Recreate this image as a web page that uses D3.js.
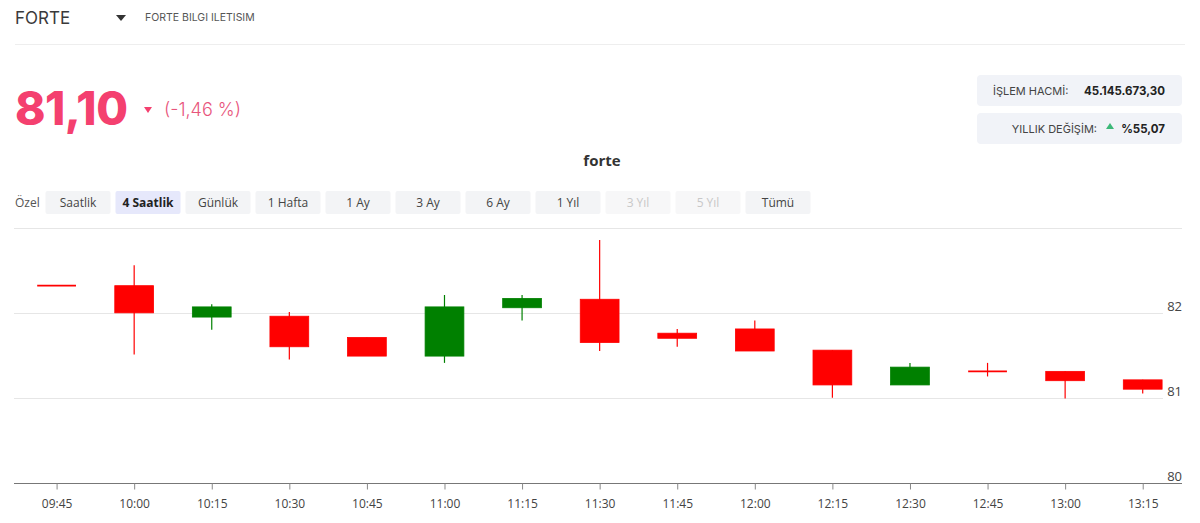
<!DOCTYPE html>
<html><head><meta charset="utf-8">
<script src="https://cdn.jsdelivr.net/npm/d3@7"></script>
<style>
html,body{margin:0;padding:0;background:#fff;}
svg{display:block;}
</style></head>
<body>
<svg id="c" width="1200" height="523"></svg>
<script>
// ---- data ----
const times = ["09:45","10:00","10:15","10:30","10:45","11:00","11:15","11:30","11:45","12:00","12:15","12:30","12:45","13:00","13:15"];
const openV  = [82.32, 82.32, 81.95, 81.96, 81.71, 81.49, 82.06, 82.16, 81.76, 81.81, 81.56, 81.15, 81.31, 81.31, 81.21];
const highV  = [82.32, 82.56, 82.10, 82.01, 81.71, 82.21, 82.21, 82.86, 81.81, 81.91, 81.56, 81.41, 81.41, 81.31, 81.21];
const lowV   = [82.32, 81.51, 81.80, 81.45, 81.49, 81.41, 81.91, 81.55, 81.60, 81.55, 81.00, 81.15, 81.25, 80.99, 81.05];
const closeV = [82.32, 82.00, 82.07, 81.60, 81.49, 82.07, 82.17, 81.65, 81.70, 81.55, 81.15, 81.36, 81.31, 81.20, 81.10];
const yTicks = [80, 81, 82];
const rangeButtons = ["Saatlik","4 Saatlik","Günlük","1 Hafta","1 Ay","3 Ay","6 Ay","1 Yıl","3 Yıl","5 Yıl","Tümü"];
const activeButton = "4 Saatlik";
const disabledButtons = ["3 Yıl","5 Yıl"];

const svg = d3.select("#c");
const UI = "'Open Sans','Noto Sans',sans-serif";
const HEAD = "Inter,'Noto Sans',sans-serif";

// ---- header ----
svg.append("text").attr("x",15).attr("y",24).attr("font-family",HEAD).attr("font-size",17)
  .attr("fill","#3a3a3a").text("FORTE");
svg.append("path").attr("d","M116,15 L126,15 L121,21 Z").attr("fill","#333");
svg.append("text").attr("x",145).attr("y",21).attr("font-family",HEAD).attr("font-size",10.5)
  .attr("fill","#555").text("FORTE BILGI ILETISIM");
svg.append("line").attr("x1",15).attr("x2",1185).attr("y1",44.5).attr("y2",44.5).attr("stroke","#eeeeee");

// price
svg.append("text").attr("x",15).attr("y",125).attr("font-family",HEAD).attr("font-weight",800)
  .attr("font-size",46).attr("letter-spacing",-0.5).attr("fill","#f4406f").text("81,10");
svg.append("path").attr("d","M144,107 L152,107 L148,113 Z").attr("fill","#f4406f");
svg.append("text").attr("x",164).attr("y",116).attr("font-family",HEAD).attr("font-size",18)
  .attr("font-weight",300).attr("fill","#e8557c").text("(-1,46 %)");

// info boxes
svg.append("rect").attr("x",977).attr("y",75).attr("width",205).attr("height",31).attr("rx",4).attr("fill","#f1f3f8");
svg.append("rect").attr("x",977).attr("y",113).attr("width",205).attr("height",31).attr("rx",4).attr("fill","#f1f3f8");
svg.append("text").attr("x",993).attr("y",95).attr("font-family",HEAD).attr("font-size",11)
  .attr("fill","#444").text("İŞLEM HACMİ:");
svg.append("text").attr("x",1165).attr("y",95).attr("text-anchor","end").attr("font-family",HEAD)
  .attr("font-weight",700).attr("font-size",11.5).attr("fill","#222").text("45.145.673,30");
svg.append("text").attr("x",1097).attr("y",133).attr("text-anchor","end").attr("font-family",HEAD).attr("font-size",11)
  .attr("fill","#444").text("YILLIK DEĞİŞİM:");
svg.append("path").attr("d","M1106,129 L1114,129 L1110,123 Z").attr("fill","#3cb878");
svg.append("text").attr("x",1165).attr("y",133).attr("text-anchor","end").attr("font-family",HEAD)
  .attr("font-weight",700).attr("font-size",11.5).attr("fill","#222").text("%55,07");

// title
svg.append("text").attr("x",602).attr("y",166).attr("text-anchor","middle").attr("font-family",UI)
  .attr("font-weight",700).attr("font-size",15).attr("fill","#333").text("forte");

// range buttons
svg.append("text").attr("x",15).attr("y",207).attr("font-family",UI).attr("font-size",12)
  .attr("fill","#555").text("Özel");
const bx = d3.scalePoint().domain(rangeButtons).range([78, 778]);
const bg = svg.append("g");
rangeButtons.forEach(b=>{
  const cx = bx(b);
  const active = b===activeButton, dis = disabledButtons.includes(b);
  bg.append("rect").attr("x",cx-32.5).attr("y",191).attr("width",65).attr("height",23).attr("rx",2)
    .attr("fill", active ? "#e6e8fb" : (dis ? "#f7f7f8" : "#f3f4f6"));
  bg.append("text").attr("x",cx).attr("y",207).attr("text-anchor","middle").attr("font-family",UI)
    .attr("font-size",12).attr("font-weight", active?700:400)
    .attr("fill", active ? "#222" : (dis ? "#c8c8c8" : "#444")).text(b);
});

// ---- chart ----
const left = 14, right = 1182, gridRight = 1163;
const x = d3.scalePoint().domain(times).range([17.8, 1181.5]).padding(0.5);
const step = x.step();
const bodyW = step*0.5;
const y = d3.scaleLinear().domain([80, 83]).range([482.5, 228]);

// top border & gridlines
svg.append("line").attr("x1",left).attr("x2",right).attr("y1",Math.round(y(83))+0.5).attr("y2",Math.round(y(83))+0.5)
  .attr("stroke","#e6e6e6");
const grid = svg.append("g");
yTicks.filter(t=>t>80).forEach(t=>{
  grid.append("line").attr("x1",left).attr("x2",gridRight).attr("y1",Math.round(y(t))+0.5).attr("y2",Math.round(y(t))+0.5)
    .attr("stroke","#e6e6e6");
});
// y labels
yTicks.forEach(t=>{
  svg.append("text").attr("x",1182).attr("y",y(t)-2).attr("text-anchor","end").attr("font-family",UI)
    .attr("font-size",13).attr("fill","#444").text(t);
});

// x axis
const xAxis = d3.axisBottom(x).tickSize(6).tickPadding(10);
const gx = svg.append("g").attr("transform",`translate(0,${Math.round(y(80))+0.5})`).call(xAxis);
gx.select(".domain").attr("d",`M${left},0H${right}`).attr("stroke","#777");
gx.selectAll(".tick line").attr("stroke","#888");
gx.selectAll(".tick text").attr("font-family",UI).attr("font-size",12).attr("fill","#444");

// candles
const data = times.map((t,i)=>({t, o:openV[i], h:highV[i], l:lowV[i], c:closeV[i]}));
const cg = svg.append("g");
data.forEach(d=>{
  const up = d.c > d.o;
  const col = up ? "#008000" : "#ff0000";
  const cx = x(d.t);
  cg.append("line").attr("x1",cx).attr("x2",cx).attr("y1",y(d.h)).attr("y2",y(d.l))
    .attr("stroke",col).attr("stroke-width",1.2);
  const top = y(Math.max(d.o,d.c)), bot = y(Math.min(d.o,d.c));
  if (bot-top < 1.5) {
    cg.append("line").attr("x1",cx-bodyW/2).attr("x2",cx+bodyW/2).attr("y1",top).attr("y2",top)
      .attr("stroke",col).attr("stroke-width",1.8);
  } else {
    cg.append("rect").attr("x",cx-bodyW/2).attr("y",top).attr("width",bodyW).attr("height",bot-top)
      .attr("fill",col).attr("stroke",col).attr("stroke-width",0.8);
  }
});
</script>
</body></html>
